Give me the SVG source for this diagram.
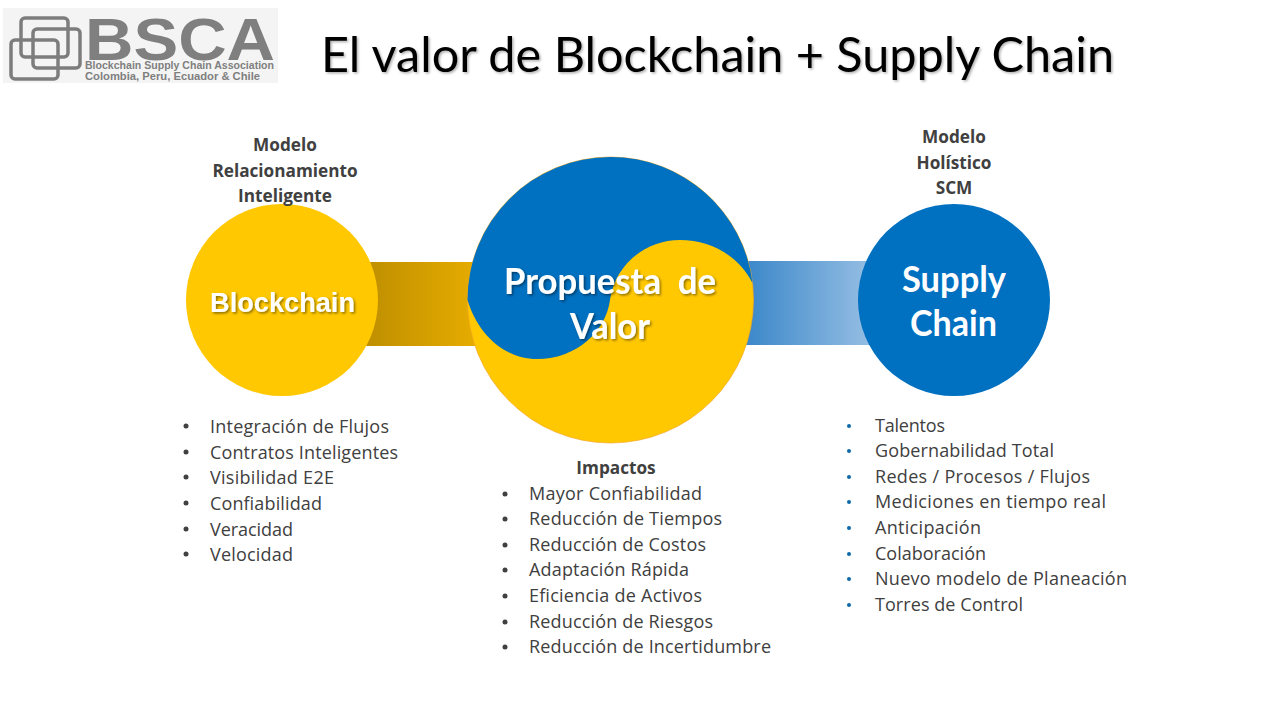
<svg xmlns="http://www.w3.org/2000/svg" width="1280" height="720" viewBox="0 0 1280 720">
<style>
.b{font-family:"Open Sans","Noto Sans",sans-serif;font-size:18px;fill:#404040}
.h{font-family:"Open Sans","Noto Sans",sans-serif;font-size:17.2px;font-weight:700;fill:#404040;text-anchor:middle}
.d{fill:#404040}.e{fill:#0d6aa8}
.w{font-family:Lato,"Open Sans",sans-serif;font-weight:700;fill:#fff;font-size:36px;white-space:pre}
.f{filter:url(#s)}
.l{fill:none;stroke:#7d7d7d;stroke-width:3.500}
.t{font-family:"Liberation Sans",sans-serif;font-weight:700;font-size:10.5px;fill:#7f7f7f}
</style>
<defs>
<linearGradient id="g1" gradientUnits="userSpaceOnUse" x1="366" x2="478" y1="0" y2="0"><stop offset="0" stop-color="#bf8f00"/><stop offset="1" stop-color="#e6ac00"/></linearGradient>
<linearGradient id="g2" gradientUnits="userSpaceOnUse" x1="745" x2="880" y1="0" y2="0"><stop offset="0" stop-color="#3a87c9"/><stop offset="1" stop-color="#9cc2e5"/></linearGradient>
<filter id="s" x="-10%" y="-20%" width="120%" height="140%"><feDropShadow dx="1.500" dy="1.500" stdDeviation="1" flood-color="#000" flood-opacity=".45"/></filter>
<filter id="ts" x="-2%" y="-10%" width="104%" height="120%"><feDropShadow dx="1.500" dy="1.500" stdDeviation=".8" flood-color="#000" flood-opacity=".3"/></filter>
</defs>
<g id="logo">
<rect x="3" y="8" width="275" height="75" fill="#f4f4f4"/>
<g class="l"><rect x="21" y="18" width="47" height="39" rx="4"/><rect x="33" y="29" width="47" height="39" rx="4"/><rect x="11" y="40" width="47" height="39" rx="4"/></g>
<text x="85" y="60" font-family="Liberation Sans,sans-serif" font-weight="700" font-size="60" fill="#7f7f7f" textLength="190" lengthAdjust="spacingAndGlyphs">BSCA</text>
<text class="t" x="85" y="69" textLength="189" lengthAdjust="spacingAndGlyphs">Blockchain Supply Chain Association</text>
<text class="t" x="85" y="80" textLength="175" lengthAdjust="spacingAndGlyphs">Colombia, Peru, Ecuador &amp; Chile</text>
</g>
<text id="title" x="321" y="72" font-family="Lato,sans-serif" font-size="48" fill="#000" textLength="793" lengthAdjust="spacingAndGlyphs" filter="url(#ts)">El valor de Blockchain + Supply Chain</text>
<g id="connectors">
<rect x="366" y="262" width="112" height="84" fill="url(#g1)"/>
<rect x="745" y="261" width="135" height="84" fill="url(#g2)"/>
</g>
<g id="blockchain">
<circle cx="282" cy="300" r="96" fill="#ffc800"/>
<text class="f" x="210" y="312" font-family="Liberation Sans,sans-serif" font-weight="700" font-size="27" fill="#fff" textLength="145" lengthAdjust="spacingAndGlyphs">Blockchain</text>
</g>
<g id="propuesta">
<circle cx="610.500" cy="300" r="143" fill="#ffc800" stroke="#f5a623" stroke-width=".7"/>
<path d="M467.500 300A143 143 0 0 1 610.500 157A143 143 0 0 1 752.500 283C738 255 710 240 680 240C645 240 615 265 610 300C606 330 578 359 537 359C505 359 478 335 467.500 300Z" fill="#0070c0"/>
<text class="w f" x="504" y="294" textLength="212" lengthAdjust="spacingAndGlyphs">Propuesta  de</text>
<text class="w f" x="570" y="339" textLength="80" lengthAdjust="spacingAndGlyphs">Valor</text>
</g>
<g id="supply">
<circle cx="954" cy="300" r="96" fill="#0070c0"/>
<text class="w" x="902" y="292" textLength="104" lengthAdjust="spacingAndGlyphs">Supply</text>
<text class="w" x="910" y="336" textLength="87" lengthAdjust="spacingAndGlyphs">Chain</text>
</g>
<g id="label-left">
<text class="h" x="285" y="151">Modelo</text><text class="h" x="285" y="177">Relacionamiento</text><text class="h" x="285" y="202">Inteligente</text>
</g>
<g id="label-right">
<text class="h" x="954" y="143">Modelo</text><text class="h" x="954" y="168.500">Holístico</text><text class="h" x="954" y="194">SCM</text>
</g>
<g id="list-left">
<g class="d"><circle cx="186" cy="426" r="2.500"/><circle cx="186" cy="452" r="2.500"/><circle cx="186" cy="477" r="2.500"/><circle cx="186" cy="503" r="2.500"/><circle cx="186" cy="529" r="2.500"/><circle cx="186" cy="554" r="2.500"/></g>
<text class="b" x="210" y="433" textLength="179">Integración de Flujos</text><text class="b" x="210" y="459" textLength="188">Contratos Inteligentes</text><text class="b" x="210" y="484" textLength="124">Visibilidad E2E</text><text class="b" x="210" y="510" textLength="112">Confiabilidad</text><text class="b" x="210" y="536" textLength="83">Veracidad</text><text class="b" x="210" y="561" textLength="83">Velocidad</text>
</g>
<g id="list-center">
<text class="h" x="616" y="474">Impactos</text>
<g class="d"><circle cx="505" cy="494" r="2.500"/><circle cx="505" cy="519" r="2.500"/><circle cx="505" cy="545" r="2.500"/><circle cx="505" cy="570" r="2.500"/><circle cx="505" cy="596" r="2.500"/><circle cx="505" cy="622" r="2.500"/><circle cx="505" cy="647" r="2.500"/></g>
<text class="b" x="529" y="500" textLength="173">Mayor Confiabilidad</text><text class="b" x="529" y="525" textLength="193">Reducción de Tiempos</text><text class="b" x="529" y="551" textLength="177">Reducción de Costos</text><text class="b" x="529" y="576" textLength="160">Adaptación Rápida</text><text class="b" x="529" y="602" textLength="173">Eficiencia de Activos</text><text class="b" x="529" y="628" textLength="184">Reducción de Riesgos</text><text class="b" x="529" y="653" textLength="242">Reducción de Incertidumbre</text>
</g>
<g id="list-right">
<g class="e"><circle cx="849" cy="426" r="2"/><circle cx="849" cy="451" r="2"/><circle cx="849" cy="477" r="2"/><circle cx="849" cy="502" r="2"/><circle cx="849" cy="528" r="2"/><circle cx="849" cy="554" r="2"/><circle cx="849" cy="579" r="2"/><circle cx="849" cy="605" r="2"/></g>
<text class="b" x="875" y="432" textLength="70">Talentos</text><text class="b" x="875" y="457" textLength="179">Gobernabilidad Total</text><text class="b" x="875" y="483" textLength="215">Redes / Procesos / Flujos</text><text class="b" x="875" y="508" textLength="231">Mediciones en tiempo real</text><text class="b" x="875" y="534" textLength="106">Anticipación</text><text class="b" x="875" y="560" textLength="111">Colaboración</text><text class="b" x="875" y="585" textLength="252">Nuevo modelo de Planeación</text><text class="b" x="875" y="611" textLength="148">Torres de Control</text>
</g>
</svg>
